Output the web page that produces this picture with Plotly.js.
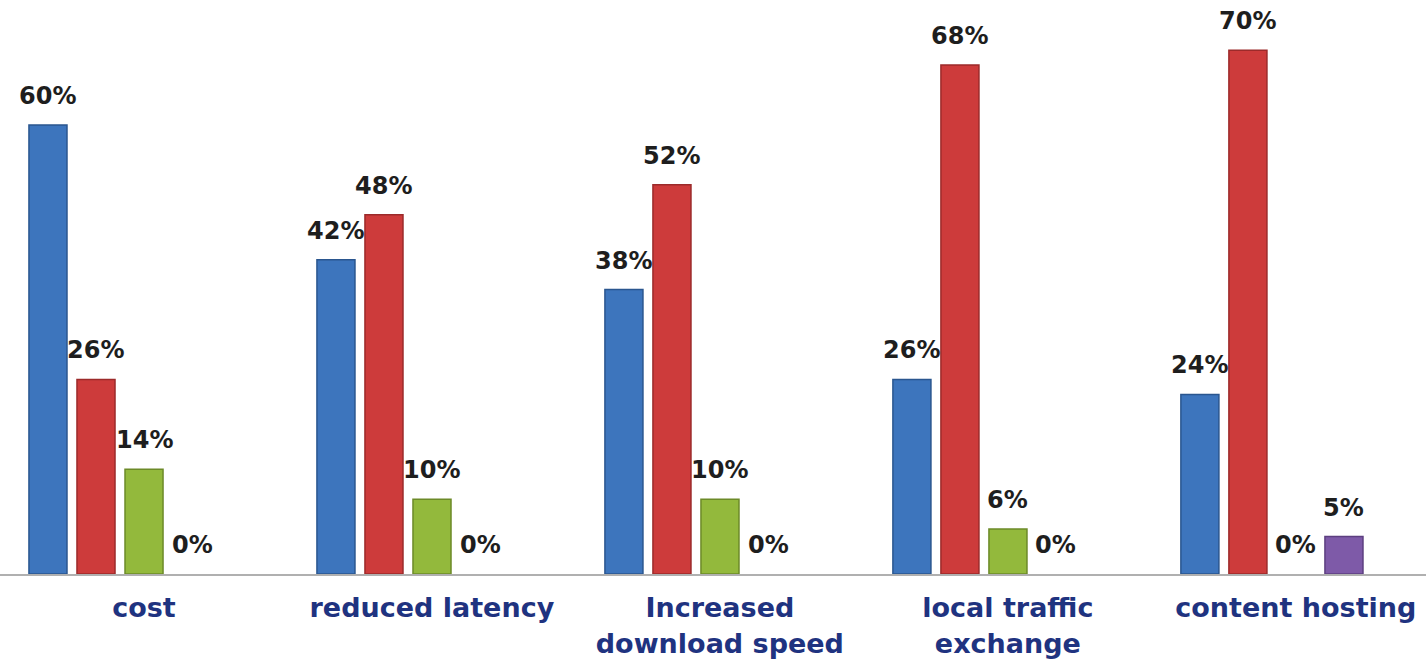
<!DOCTYPE html>
<html>
<head>
<meta charset="utf-8">
<script src="https://cdn.plot.ly/plotly-3.0.1.min.js"></script>
<style>
  html, body { margin: 0; padding: 0; background: #ffffff; }
  #chart { width: 1426px; height: 661px; }
</style>
</head>
<body>
<div id="chart"></div>
<script>
// ---- data ----
const categories = ["cost", "reduced latency", "Increased<br>download speed", "local traffic<br>exchange", "content hosting"];
const seriesBlue   = [60, 42, 38, 26, 24];
const seriesRed    = [26, 48, 52, 68, 70];
const seriesGreen  = [14, 10, 10, 6, 0];
const seriesPurple = [0, 0, 0, 0, 5];

const seriesList = [seriesBlue, seriesRed, seriesGreen, seriesPurple];
const seriesColors = ["#3d75bd", "#cd3b3b", "#93b93c", "#7e5aa8"];
const seriesEdges  = ["#2a568f", "#9c2a2a", "#6c8a28", "#5c3f80"];

const catIdx = categories.map((c, i) => i);
const bargap = 0.333;
const bargroupgap = 0.208;
const nSeries = seriesList.length;
const slot = (1 - bargap) / nSeries;

const traces = seriesList.map((vals, j) => ({
  type: "bar",
  x: catIdx,
  y: vals,
  marker: {
    color: seriesColors[j],
    line: { color: seriesEdges[j], width: vals.map(v => (v > 0 ? 1.5 : 0)) }
  },
  hoverinfo: "skip",
  showlegend: false
}));

const annotations = [];
seriesList.forEach((vals, j) => {
  vals.forEach((v, i) => {
    annotations.push({
      x: i + (j - (nSeries - 1) / 2) * slot,
      y: v,
      xref: "x", yref: "y",
      text: v + "%",
      showarrow: false,
      yanchor: "bottom",
      xanchor: "center",
      yshift: 13,
      font: { family: "DejaVu Sans", size: 24, color: "#1e1e1e", weight: "bold" }
    });
  });
});

const layout = {
  width: 1426,
  height: 661,
  margin: { l: 0, r: 0, t: 0, b: 87 },
  paper_bgcolor: "#ffffff",
  plot_bgcolor: "#ffffff",
  barmode: "group",
  bargap: bargap,
  bargroupgap: bargroupgap,
  xaxis: {
    range: [-0.4167, 4.535],
    tickvals: catIdx.map(i => i + 0.083),
    ticktext: categories,
    showgrid: false,
    zeroline: false,
    showline: true,
    linecolor: "#b0b0b0",
    linewidth: 2,
    ticks: "",
    ticklabelstandoff: 9,
    tickfont: { family: "DejaVu Sans", size: 27, color: "#1f3380", weight: "bold" }
  },
  yaxis: {
    range: [0, 76.7],
    visible: false,
    showgrid: false,
    zeroline: false
  },
  annotations: annotations
};

Plotly.newPlot("chart", traces, layout, { displayModeBar: false, staticPlot: true });
</script>
</body>
</html>
